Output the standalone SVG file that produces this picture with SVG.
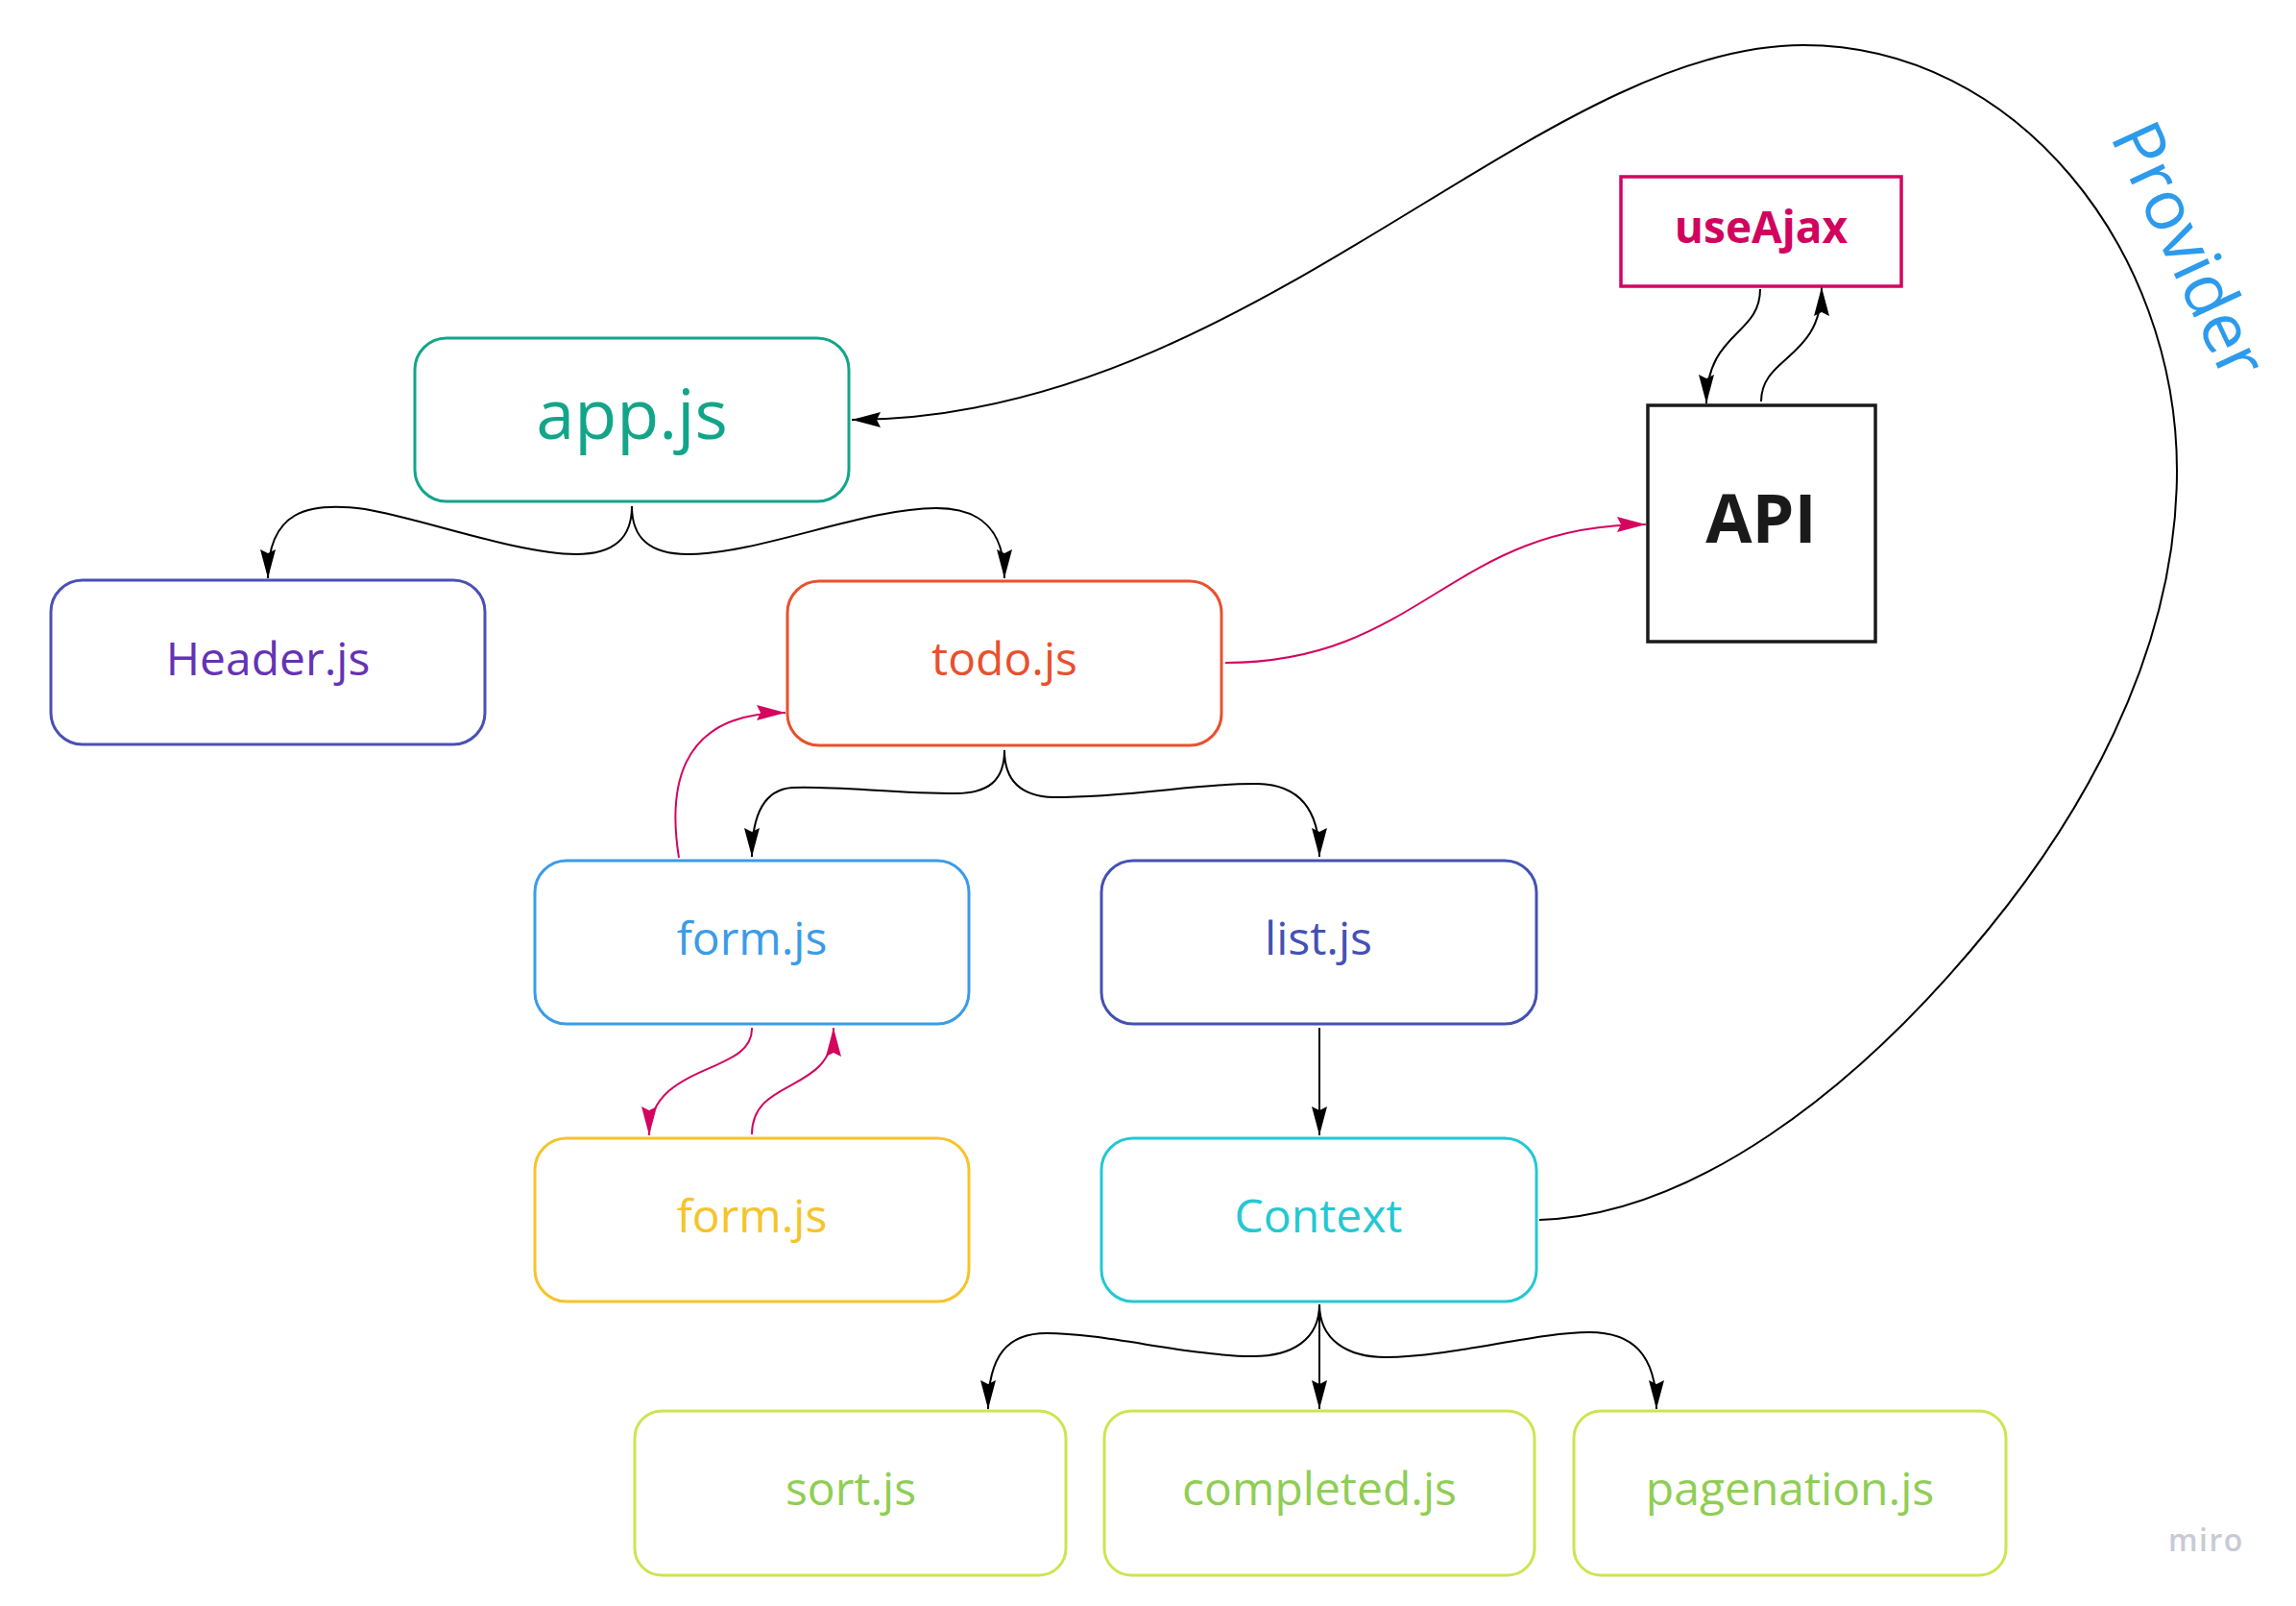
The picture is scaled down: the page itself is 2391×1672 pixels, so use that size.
<svg xmlns="http://www.w3.org/2000/svg" width="2391" height="1672" viewBox="0 0 2391 1672">
<style>
.box{fill:#fff;stroke-width:3}
.lbl{font-family:"Open Sans","Liberation Sans",sans-serif;font-size:48px;text-anchor:middle}
.con{fill:none;stroke:#000;stroke-width:2}
.mag{fill:none;stroke:#d4045f;stroke-width:2}
</style>
<defs>
<marker id="ab" markerUnits="userSpaceOnUse" markerWidth="32" markerHeight="18" refX="30" refY="8" orient="auto" overflow="visible"><path d="M0,0 L30,8 L0,16 L4,8 z" fill="#000"/></marker>
<marker id="am" markerUnits="userSpaceOnUse" markerWidth="32" markerHeight="18" refX="30" refY="8" orient="auto" overflow="visible"><path d="M0,0 L30,8 L0,16 L4,8 z" fill="#d4045f"/></marker>
</defs>
<rect width="2391" height="1672" fill="#fff"/>
<g id="connectors">
<path class="con" d="M658,527 C658,560 640,577 600,577 C540,577 440,540 380,530 C320,522 279,532 279,602" marker-end="url(#ab)"/>
<path class="con" d="M658,527 C658,560 676,577 716,577 C790,577 900,529 975,529 C1020,529 1046,550 1046,602" marker-end="url(#ab)"/>
<path class="con" d="M1046,781 C1046,812 1030,826 995,826 C930,826 870,818 825,820 C797,822 783,845 783,892" marker-end="url(#ab)"/>
<path class="con" d="M1046,781 C1046,812 1062,829 1097,830 C1180,830 1250,815 1310,816 C1350,817 1374,840 1374,892" marker-end="url(#ab)"/>
<path class="con" d="M1374,1070 L1374,1182" marker-end="url(#ab)"/>
<path class="con" d="M1374,1358 C1374,1395 1345,1412 1305,1412 C1240,1412 1150,1388 1090,1388 C1050,1388 1029,1410 1029,1467" marker-end="url(#ab)"/>
<path class="con" d="M1374,1358 L1374,1467" marker-end="url(#ab)"/>
<path class="con" d="M1374,1358 C1374,1395 1403,1413 1443,1413 C1510,1413 1600,1387 1655,1387 C1700,1387 1725,1410 1725,1467" marker-end="url(#ab)"/>
<path class="con" d="M1603,1270 C1760,1265 1930,1140 2071,967 C2156,863 2267,690 2267,490 C2267,260 2100,47 1878,47 C1600,47 1300,437 887,437" marker-end="url(#ab)"/>
<path class="con" d="M1833,301 C1833,350 1777,345 1777,420" marker-end="url(#ab)"/>
<path class="con" d="M1834,418 C1834,370 1897,375 1897,299" marker-end="url(#ab)"/>
<path class="mag" d="M1276,690 C1480,690 1510,546 1714,546" marker-end="url(#am)"/>
<path class="mag" d="M707,893 C697,830 700,742 818,742" marker-end="url(#am)"/>
<path class="mag" d="M783,1070 C785,1120 676,1105 676,1182" marker-end="url(#am)"/>
<path class="mag" d="M783,1181 C783,1120 868,1140 868,1070" marker-end="url(#am)"/>
</g>
<g id="app">
<rect class="box" x="432" y="352" width="452" height="170" rx="33" stroke="#13a589"/>
<text class="lbl" x="658" y="457" style="font-size:72px" fill="#13a589">app.js</text>
</g>
<g id="header">
<rect class="box" x="53" y="604" width="452" height="171" rx="33" stroke="#4a50b5"/>
<text class="lbl" x="279" y="703" fill="#6432b4">Header.js</text>
</g>
<g id="todo">
<rect class="box" x="820" y="605" width="452" height="171" rx="33" stroke="#e9502e"/>
<text class="lbl" x="1046" y="703" fill="#e9502e">todo.js</text>
</g>
<g id="form-blue">
<rect class="box" x="557" y="896" width="452" height="170" rx="33" stroke="#3a9ce8"/>
<text class="lbl" x="783" y="994" fill="#3a9ce8">form.js</text>
</g>
<g id="list">
<rect class="box" x="1147" y="896" width="453" height="170" rx="33" stroke="#4451b3"/>
<text class="lbl" x="1373" y="994" fill="#4451b3">list.js</text>
</g>
<g id="form-yellow">
<rect class="box" x="557" y="1185" width="452" height="170" rx="33" stroke="#f6c42a"/>
<text class="lbl" x="783" y="1283" fill="#f6c42a">form.js</text>
</g>
<g id="context">
<rect class="box" x="1147" y="1185" width="453" height="170" rx="33" stroke="#23c8d3"/>
<text class="lbl" x="1373" y="1283" fill="#23c8d3">Context</text>
</g>
<g id="sort">
<rect class="box" x="661" y="1469" width="449" height="171" rx="28" stroke="#cee44f" stroke-width="4"/>
<text class="lbl" x="886" y="1567" fill="#8fce54">sort.js</text>
</g>
<g id="completed">
<rect class="box" x="1150" y="1469" width="448" height="171" rx="28" stroke="#cee44f" stroke-width="4"/>
<text class="lbl" x="1374" y="1567" fill="#8fce54">completed.js</text>
</g>
<g id="pagenation">
<rect class="box" x="1639" y="1469" width="450" height="171" rx="28" stroke="#cee44f" stroke-width="4"/>
<text class="lbl" x="1864" y="1567" fill="#8fce54">pagenation.js</text>
</g>
<g id="useajax">
<rect x="1688" y="184" width="292" height="114" fill="#fff" stroke="#d4045f" stroke-width="3.5"/>
<text class="lbl" x="1834" y="253" style="font-size:46px;font-weight:700" fill="#d2035f">useAjax</text>
</g>
<g id="api">
<rect x="1716" y="422" width="237" height="246" fill="#fff" stroke="#1a1a1a" stroke-width="3.5"/>
<text class="lbl" x="1834" y="565" style="font-size:70px;font-weight:700" fill="#1a1a1a">API</text>
</g>
<g id="provider-label">
<text x="0" y="0" transform="translate(2197,142) rotate(65)" style="font-family:'Open Sans','Liberation Sans',sans-serif;font-size:72px" fill="#2d9bec">Provider</text>
</g>
<g id="watermark">
<text x="2258" y="1615" style="font-family:'Open Sans','Liberation Sans',sans-serif;font-size:32px;font-weight:600;letter-spacing:1.5px" fill="#c8cad6">miro</text>
</g>
</svg>
